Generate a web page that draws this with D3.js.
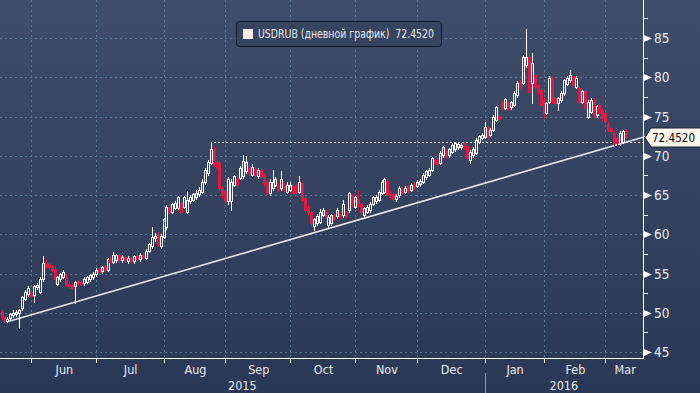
<!DOCTYPE html>
<meta charset="utf-8">
<style>
body { margin: 0; background: #2c3a57; }
svg { display: block; }
text { font-family: "Liberation Sans Narrow", "Arial Narrow", "DejaVu Sans Condensed", "Liberation Sans", sans-serif; }
</style>
<body>
<script src="https://d3js.org/d3.v7.min.js"></script>
<script>

// USDRUB daily candles, 18 May 2015 .. Mar 2016 (weekdays, 1 Jan 2016 has no bar)
var firstDay = new Date(2015, 4, 18);
var holidays = ["2016-01-01"];

var opens = [
  50.1, 49.4, 49.0, 49.3, 49.7, 49.9, 50.0, 50.6, 51.8, 52.4,
  52.7, 52.3, 53.3, 52.7, 54.3, 56.4, 56.2, 55.9, 55.6, 53.7,
  54.3, 54.6, 54.6, 53.7, 53.6, 53.4, 54.0, 53.9, 53.8, 53.9,
  54.3, 54.5, 54.9, 55.6, 55.3, 55.9, 55.5, 56.9, 56.5, 56.7,
  57.3, 56.7, 57.1, 56.6, 57.0, 56.6, 57.2, 56.8, 57.4, 57.0,
  57.9, 58.5, 59.5, 60.0, 58.5, 59.7, 60.9, 63.5, 62.9, 63.4,
  63.4, 64.0, 63.5, 62.9, 64.2, 64.4, 64.7, 65.1, 65.4, 66.6,
  67.8, 69.1, 70.9, 69.2, 69.1, 65.9, 65.5, 64.2, 64.3, 66.3,
  67.2, 67.2, 67.4, 68.0, 68.6, 67.6, 68.3, 67.4, 68.2, 67.6,
  66.6, 65.2, 65.9, 66.3, 66.3, 65.9, 66.3, 65.4, 65.7, 66.1,
  66.3, 65.4, 66.5, 64.6, 63.5, 62.8, 61.0, 61.4, 61.6, 62.5,
  62.9, 61.2, 61.4, 62.4, 62.3, 62.6, 62.4, 62.8, 63.1, 64.9,
  63.5, 64.5, 63.8, 62.5, 62.9, 63.1, 63.9, 64.2, 64.4, 65.3,
  65.4, 66.8, 65.3, 65.1, 64.5, 65.0, 65.8, 65.4, 66.1, 65.7,
  66.4, 66.2, 66.4, 66.7, 67.3, 67.6, 68.2, 69.6, 69.5, 69.1,
  70.1, 70.6, 70.1, 70.5, 70.8, 71.1, 71.1, 71.5, 71.3, 69.5,
  70.1, 70.4, 71.8, 72.3, 72.4, 73.6, 72.7, 73.3, 74.6, 75.1,
  76.8, 76.1, 76.7, 76.2, 76.5, 77.7, 79.4, 79.3, 81.5, 82.6,
  79.3, 80.3, 79.0, 78.4, 77.1, 75.5, 76.9, 79.9, 77.3, 76.7,
  77.1, 78.0, 79.2, 79.6, 80.1, 78.8, 78.6, 76.9, 78.2, 75.0,
  75.6, 77.1, 75.2, 76.5, 75.8, 75.4, 74.1, 73.5, 72.9, 72.3,
  71.6, 71.8, 73.2
];
var highs = [
  50.4, 49.6, 49.4, 50.0, 50.3, 50.4, 50.5, 52.2, 52.9, 53.4,
  53.0, 53.6, 53.8, 54.5, 57.2, 56.8, 56.4, 56.1, 55.8, 54.7,
  55.1, 55.4, 54.9, 53.9, 53.8, 54.1, 54.2, 54.1, 54.5, 54.7,
  55.0, 55.2, 55.7, 55.8, 56.0, 56.1, 57.0, 57.1, 57.7, 57.5,
  57.5, 57.3, 57.4, 57.2, 57.2, 57.4, 58.1, 57.6, 57.7, 58.1,
  58.9, 60.9, 60.1, 60.3, 60.0, 62.1, 63.7, 63.8, 64.0, 64.2,
  64.9, 64.3, 64.9, 65.5, 65.0, 65.3, 65.6, 66.0, 67.0, 68.5,
  69.5, 71.7, 71.2, 69.5, 69.3, 66.2, 65.8, 67.3, 67.0, 67.6,
  67.5, 68.7, 70.1, 70.0, 68.9, 68.9, 68.6, 68.4, 68.4, 67.8,
  66.9, 67.0, 68.2, 67.3, 66.6, 68.0, 66.6, 66.6, 66.6, 66.4,
  66.5, 67.4, 66.8, 64.9, 63.7, 63.0, 62.1, 62.6, 63.2, 63.3,
  63.1, 62.5, 62.6, 62.6, 63.3, 62.8, 64.4, 63.0, 65.4, 65.1,
  64.9, 65.5, 64.0, 63.5, 63.7, 64.1, 64.9, 65.0, 65.6, 66.9,
  67.2, 67.0, 65.5, 65.3, 65.1, 66.1, 66.0, 66.1, 66.3, 66.5,
  66.6, 66.9, 67.0, 67.8, 68.2, 68.4, 69.9, 69.8, 69.7, 70.6,
  71.3, 70.8, 71.0, 71.6, 71.8, 71.7, 71.6, 71.7, 71.5, 70.7,
  71.1, 72.2, 72.7, 72.9, 74.3, 73.8, 73.5, 75.2, 76.4, 75.3,
  77.0, 77.4, 76.9, 77.0, 78.2, 79.5, 79.6, 82.8, 86.2, 83.1,
  83.1, 80.5, 79.2, 78.6, 77.3, 76.9, 80.1, 80.1, 77.5, 77.5,
  78.2, 79.8, 80.1, 80.9, 80.3, 80.1, 78.8, 78.4, 78.4, 77.1,
  77.3, 77.3, 76.5, 76.7, 76.0, 75.6, 74.3, 73.7, 73.1, 72.5,
  73.1, 73.3, 73.4
];
var lows = [
  49.2, 48.8, 48.8, 49.1, 49.5, 49.6, 48.1, 50.4, 51.6, 52.2,
  52.0, 51.4, 53.0, 52.5, 54.1, 55.7, 55.6, 55.3, 53.8, 53.5,
  54.1, 54.4, 53.4, 53.2, 53.0, 51.3, 53.6, 53.5, 53.6, 53.8,
  54.1, 54.3, 54.7, 55.0, 55.1, 55.3, 55.3, 56.4, 56.3, 56.5,
  56.5, 56.5, 56.5, 56.4, 56.4, 56.4, 56.7, 56.6, 56.9, 56.9,
  57.8, 58.3, 59.2, 58.5, 58.3, 59.5, 60.7, 62.7, 62.7, 63.2,
  63.2, 62.6, 63.3, 62.7, 64.0, 64.2, 64.5, 64.9, 65.2, 66.4,
  67.6, 68.9, 68.7, 68.4, 65.7, 64.8, 64.0, 63.8, 63.1, 66.1,
  66.1, 67.0, 67.2, 67.8, 67.6, 67.4, 67.4, 67.2, 67.2, 66.3,
  65.1, 65.0, 65.7, 66.1, 65.5, 65.7, 65.5, 65.2, 65.5, 65.1,
  65.2, 65.2, 64.2, 62.9, 62.6, 61.2, 60.6, 61.2, 61.4, 62.3,
  62.1, 60.8, 61.2, 61.8, 62.1, 62.1, 62.2, 62.1, 62.9, 63.6,
  63.3, 63.6, 62.6, 62.1, 62.7, 62.9, 63.7, 64.0, 64.2, 65.1,
  65.2, 64.9, 64.6, 64.3, 64.3, 64.8, 65.1, 65.2, 65.4, 65.5,
  65.7, 66.0, 66.2, 66.5, 67.1, 67.4, 68.0, 68.9, 68.7, 68.9,
  69.9, 69.7, 69.9, 70.3, 70.6, 70.9, 70.9, 70.9, 69.5, 69.1,
  69.9, 70.2, 71.6, 72.1, 72.2, 72.2, 72.5, 73.1, 74.4, 74.5,
  76.0, 75.9, 75.8, 76.0, 76.3, 77.5, 78.6, 79.1, 81.3, 77.9,
  76.7, 78.6, 77.9, 76.3, 74.8, 75.3, 76.7, 76.7, 76.5, 75.8,
  76.9, 77.8, 79.0, 79.4, 78.8, 78.6, 76.7, 76.7, 75.9, 74.8,
  75.4, 75.0, 75.0, 75.2, 74.6, 74.2, 73.1, 72.9, 71.4, 71.4,
  71.4, 71.6, 72.3
];
var closes = [
  49.4, 49.0, 49.2, 49.8, 50.0, 50.1, 50.3, 52.0, 52.7, 53.2,
  52.2, 53.4, 53.6, 54.3, 56.4, 55.9, 55.8, 55.5, 54.3, 54.5,
  55.0, 55.2, 53.6, 53.4, 53.2, 53.9, 53.8, 53.7, 54.3, 54.5,
  54.8, 55.0, 55.5, 55.2, 55.8, 55.5, 56.8, 56.5, 57.4, 57.3,
  56.7, 57.1, 56.7, 57.0, 56.6, 57.2, 56.9, 57.4, 57.1, 57.9,
  58.7, 59.7, 59.8, 58.7, 59.8, 61.9, 63.5, 62.9, 63.8, 64.0,
  64.7, 62.8, 64.7, 64.4, 64.8, 65.1, 65.3, 65.7, 66.7, 68.2,
  69.2, 70.9, 69.0, 68.6, 65.9, 65.0, 64.2, 67.0, 66.7, 67.4,
  66.3, 68.4, 69.3, 69.2, 67.8, 68.6, 67.6, 68.2, 67.4, 66.5,
  65.3, 66.7, 66.7, 67.0, 65.7, 67.0, 65.7, 66.3, 66.3, 65.3,
  65.4, 66.6, 64.4, 63.1, 62.8, 61.4, 61.9, 62.3, 62.9, 63.1,
  62.3, 62.2, 62.4, 62.0, 63.1, 62.3, 63.8, 62.3, 65.2, 63.8,
  64.7, 63.8, 62.8, 63.3, 63.5, 63.9, 64.7, 64.8, 65.4, 66.7,
  67.0, 65.1, 64.8, 64.5, 64.9, 65.9, 65.3, 65.9, 65.6, 66.3,
  65.9, 66.7, 66.8, 67.6, 68.0, 68.2, 69.7, 69.1, 68.9, 70.4,
  71.1, 69.9, 70.8, 71.4, 71.6, 71.5, 71.4, 71.1, 69.7, 70.5,
  70.9, 72.0, 72.5, 72.7, 73.6, 72.4, 73.3, 75.0, 76.2, 74.7,
  76.2, 77.2, 76.0, 76.8, 78.0, 79.3, 78.8, 82.6, 82.6, 78.1,
  81.8, 78.8, 78.1, 76.5, 75.5, 76.7, 79.9, 76.9, 76.7, 77.3,
  78.0, 79.6, 79.9, 80.3, 79.0, 79.9, 76.9, 78.2, 76.1, 76.9,
  77.1, 75.2, 76.3, 75.4, 74.8, 74.4, 73.3, 73.1, 71.6, 71.6,
  72.9, 73.1, 72.452
];

var yTicks = [45, 50, 55, 60, 65, 70, 75, 80, 85];
var monthNames = ["Jan","Feb","Mar","Apr","May","Jun","Jul","Aug","Sep","Oct","Nov","Dec"];
var seriesName = "USDRUB (дневной график)";
// support line: two lows it rests on (bar index, price)
var trendPoints = [[2, 48.86], [111, 60.73]];
// August high, drawn as a dotted level
var levelBar = 71;

var width = 700, height = 393,
    plotRight = 643, plotBottom = 358;

var fmt = d3.timeFormat("%Y-%m-%d");
var dates = [];
var day = new Date(firstDay);
while (dates.length < closes.length) {
  var wd = day.getDay();
  if (wd != 0 && wd != 6 && holidays.indexOf(fmt(day)) < 0) dates.push(new Date(day));
  day.setDate(day.getDate() + 1);
}
var n = closes.length;

var x = d3.scaleLinear().domain([0, n - 1]).range([1.5, 626]);
var y = d3.scaleLinear().domain([44.24, 89.84]).range([plotBottom, 0]);

var svg = d3.select("body").append("svg")
  .attr("width", width)
  .attr("height", height);

var grad = svg.append("defs").append("linearGradient")
  .attr("id", "bg").attr("x1", 0).attr("y1", 0).attr("x2", 0).attr("y2", 1);
grad.append("stop").attr("offset", "0%").attr("stop-color", "#3f4d6b");
grad.append("stop").attr("offset", "100%").attr("stop-color", "#2a3855");

svg.append("rect").attr("width", width).attr("height", height).attr("fill", "url(#bg)");

// month starts
var monthStarts = [];
for (var i = 1; i < n; i++) {
  if (dates[i].getMonth() != dates[i - 1].getMonth()) monthStarts.push(i);
}
function px(i) { return Math.round(x(i)) + 0.5; }

/* ------- GRID -------*/
var grid = svg.append("g")
  .attr("stroke", "#56779a")
  .attr("stroke-width", 1)
  .attr("stroke-dasharray", "2,3")
  .attr("shape-rendering", "crispEdges");

grid.selectAll("line.h")
  .data(yTicks)
  .enter().append("line")
  .attr("class", "h")
  .attr("x1", 0).attr("x2", plotRight)
  .attr("y1", function(d) { return Math.round(y(d)) + 0.5; })
  .attr("y2", function(d) { return Math.round(y(d)) + 0.5; });

grid.selectAll("line.v")
  .data(monthStarts)
  .enter().append("line")
  .attr("class", "v")
  .attr("y1", 0).attr("y2", plotBottom)
  .attr("x1", function(d) { return px(d); })
  .attr("x2", function(d) { return px(d); });

/* ------- TREND LINE & LEVEL -------*/
var slope = (trendPoints[1][1] - trendPoints[0][1]) / (trendPoints[1][0] - trendPoints[0][0]);
var endBar = x.invert(plotRight);
svg.append("line")
  .attr("x1", x(trendPoints[0][0]))
  .attr("y1", y(trendPoints[0][1]))
  .attr("x2", plotRight)
  .attr("y2", y(trendPoints[0][1] + slope * (endBar - trendPoints[0][0])))
  .attr("stroke", "#e4e6ea")
  .attr("stroke-width", 1.6);

svg.append("line")
  .attr("x1", px(levelBar) + 2)
  .attr("x2", plotRight)
  .attr("y1", Math.round(y(highs[levelBar])) + 0.5)
  .attr("y2", Math.round(y(highs[levelBar])) + 0.5)
  .attr("stroke", "#ffffff")
  .attr("stroke-dasharray", "2,2")
  .attr("shape-rendering", "crispEdges");

/* ------- CANDLES -------*/
var red = "#e3173f";
var candles = svg.append("g")
  .attr("shape-rendering", "crispEdges")
  .selectAll("g")
  .data(d3.range(n))
  .enter().append("g");

function bodyTop(i) { return Math.round(y(Math.max(opens[i], closes[i]))) + 0.5; }
function bodyBot(i) { return Math.round(y(Math.min(opens[i], closes[i]))) + 0.5; }
function isUp(i) { return closes[i] >= opens[i]; }

candles.append("line")
  .attr("x1", px).attr("x2", px)
  .attr("y1", function(i) { return Math.round(y(highs[i])); })
  .attr("y2", bodyTop)
  .attr("stroke", function(i) { return isUp(i) ? "#ffffff" : red; });

candles.append("line")
  .attr("x1", px).attr("x2", px)
  .attr("y1", bodyBot)
  .attr("y2", function(i) { return Math.round(y(lows[i])) + 1; })
  .attr("stroke", function(i) { return isUp(i) ? "#ffffff" : red; });

candles.append("rect")
  .attr("x", function(i) { return px(i) - 1; })
  .attr("width", 2)
  .attr("y", bodyTop)
  .attr("height", function(i) { return bodyBot(i) - bodyTop(i); })
  .attr("fill", function(i) { return isUp(i) ? "none" : red; })
  .attr("stroke", function(i) { return isUp(i) ? "#ffffff" : red; });

/* ------- AXES -------*/
var axes = svg.append("g").attr("shape-rendering", "crispEdges");
axes.append("line")
  .attr("x1", plotRight + 0.5).attr("x2", plotRight + 0.5)
  .attr("y1", 0).attr("y2", plotBottom + 1)
  .attr("stroke", "#ffffff");
axes.append("line")
  .attr("x1", 0).attr("x2", plotRight + 1)
  .attr("y1", plotBottom + 0.5).attr("y2", plotBottom + 0.5)
  .attr("stroke", "#ffffff");

// minor ticks halfway between labels
var minor = d3.range(yTicks[0] - 2.5, yTicks[yTicks.length - 1] + 5, 5)
  .filter(function(d) { return y(d) > 2 && y(d) < plotBottom; });
axes.selectAll("line.minor")
  .data(minor)
  .enter().append("line")
  .attr("class", "minor")
  .attr("x1", plotRight).attr("x2", plotRight + 5)
  .attr("y1", function(d) { return Math.round(y(d)) + 0.5; })
  .attr("y2", function(d) { return Math.round(y(d)) + 0.5; })
  .attr("stroke", "#ffffff");

var yt = svg.selectAll("g.ytick")
  .data(yTicks)
  .enter().append("g")
  .attr("class", "ytick")
  .attr("transform", function(d) { return "translate(" + (plotRight + 1) + "," + (Math.round(y(d)) + 0.5) + ")"; });
yt.append("path")
  .attr("d", "M0,-3.5L8,0L0,3.5Z")
  .attr("fill", "#ffffff");
yt.append("text")
  .attr("x", 10)
  .attr("dy", "0.36em")
  .attr("fill", "#e9ecf2")
  .style("font-size", "13.5px")
  .text(function(d) { return d; });

// month ticks and labels
axes.selectAll("line.mt")
  .data(monthStarts)
  .enter().append("line")
  .attr("class", "mt")
  .attr("x1", px).attr("x2", px)
  .attr("y1", plotBottom).attr("y2", plotBottom + 5)
  .attr("stroke", "#ffffff");

var bounds = monthStarts.map(function(d) { return x(d); }).concat([plotRight]);
svg.selectAll("text.month")
  .data(monthStarts)
  .enter().append("text")
  .attr("class", "month")
  .attr("x", function(d, k) { return (bounds[k] + bounds[k + 1]) / 2 + 1; })
  .attr("y", 374)
  .attr("text-anchor", "middle")
  .attr("fill", "#e9ecf2")
  .style("font-size", "12.5px")
  .text(function(d) { return monthNames[dates[d].getMonth()]; });

// years
var yearStart = monthStarts.filter(function(d) { return dates[d].getMonth() == 0; })[0];
var years = [
  { label: dates[0].getFullYear(), x0: 0, x1: x(yearStart) },
  { label: dates[yearStart].getFullYear(), x0: x(yearStart), x1: plotRight }
];
svg.append("line")
  .attr("x1", px(yearStart)).attr("x2", px(yearStart))
  .attr("y1", 373).attr("y2", height)
  .attr("stroke", "#8e99ab")
  .attr("shape-rendering", "crispEdges");
svg.selectAll("text.year")
  .data(years)
  .enter().append("text")
  .attr("class", "year")
  .attr("x", function(d) { return (d.x0 + d.x1) / 2; })
  .attr("y", 390)
  .attr("text-anchor", "middle")
  .attr("fill", "#e9ecf2")
  .style("font-size", "12.5px")
  .text(function(d) { return d.label; });

/* ------- LAST PRICE TAG -------*/
var last = closes[n - 1].toFixed(4);
var ly = Math.round(y(closes[n - 1])) + 0.5;
svg.append("path")
  .attr("d", "M" + (plotRight + 2) + "," + ly + "L" + (plotRight + 8) + "," + (ly - 9.5) +
             "L" + (width + 2) + "," + (ly - 9.5) + "L" + (width + 2) + "," + (ly + 9.5) +
             "L" + (plotRight + 8) + "," + (ly + 9.5) + "Z")
  .attr("fill", "#fff7ec")
  .attr("stroke", "#1b2233");
svg.append("text")
  .attr("x", plotRight + 9)
  .attr("y", ly)
  .attr("dy", "0.36em")
  .attr("fill", "#000000")
  .attr("textLength", 43)
  .attr("lengthAdjust", "spacingAndGlyphs")
  .style("font-size", "13px")
  .text(last);

/* ------- LEGEND -------*/
var legend = svg.append("g").attr("transform", "translate(236,21)");
legend.append("rect")
  .attr("x", 0.5).attr("y", 0.5)
  .attr("width", 205).attr("height", 25)
  .attr("rx", 3)
  .attr("fill", "#36445f")
  .attr("stroke", "#111827");
legend.append("rect")
  .attr("x", 7).attr("y", 8)
  .attr("width", 10).attr("height", 10)
  .attr("fill", "#fdf0ec");
legend.append("text")
  .attr("x", 22)
  .attr("y", 17)
  .attr("fill", "#e6eaf1")
  .attr("xml:space", "preserve")
  .attr("textLength", 176)
  .attr("lengthAdjust", "spacingAndGlyphs")
  .style("white-space", "pre")
  .style("font-size", "12px")
  .text(seriesName + "  " + last);

</script>
</body>
